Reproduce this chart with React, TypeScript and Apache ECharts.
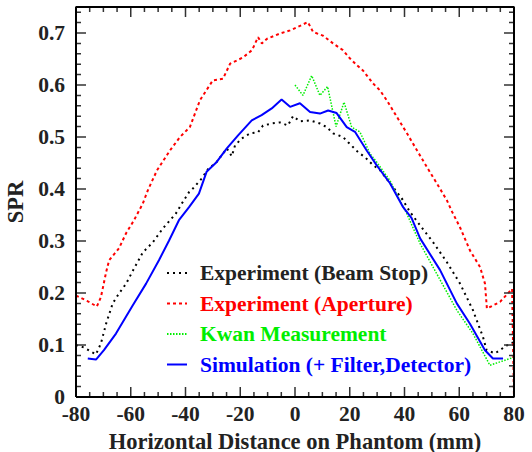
import React, { useEffect, useRef } from "react";
import * as echarts from "echarts";

const X_MIN = -80;
const X_MAX = 80;
const X_STEP = 20;
const Y_MIN = 0;
const Y_MAX = 0.75;
const Y_STEP = 0.1;

const X_TICKS = [
  -80, -75, -70, -65, -60, -55, -50, -45, -40, -35, -30, -25, -20, -15, -10, -5,
  0, 5, 10, 15, 20, 25, 30, 35, 40, 45, 50, 55, 60, 65, 70, 75, 80,
];
const X_MAJOR = [-80, -60, -40, -20, 0, 20, 40, 60, 80];
const Y_TICKS = [
  0, 0.02, 0.04, 0.06, 0.08, 0.1, 0.12, 0.14, 0.16, 0.18, 0.2, 0.22, 0.24, 0.26,
  0.28, 0.3, 0.32, 0.34, 0.36, 0.38, 0.4, 0.42, 0.44, 0.46, 0.48, 0.5, 0.52, 0.54,
  0.56, 0.58, 0.6, 0.62, 0.64, 0.66, 0.68, 0.7, 0.72, 0.74,
];
const Y_MAJOR = [0, 0.1, 0.2, 0.3, 0.4, 0.5, 0.6, 0.7];

const seriesNames = [
  "Experiment (Beam Stop)",
  "Experiment (Aperture)",
  "Kwan Measurement",
  "Simulation (+ Filter,Detector)",
];

const beamStop = [
  [-80, 0.1], [-77, 0.095], [-72.7, 0.082], [-70.9, 0.103], [-69, 0.141], [-66.6, 0.18],
  [-64.3, 0.199], [-61.7, 0.218], [-58.8, 0.247], [-55.6, 0.278], [-52, 0.297],
  [-48.3, 0.324], [-43.5, 0.353], [-41, 0.375], [-38.7, 0.394], [-37.3, 0.401],
  [-34.1, 0.42], [-31.8, 0.438], [-28.6, 0.452], [-24.9, 0.478], [-23.1, 0.463],
  [-21.9, 0.484], [-19.5, 0.497], [-16.4, 0.507], [-13.5, 0.509], [-11.7, 0.522],
  [-8.5, 0.526], [-5.5, 0.528], [-2.6, 0.522], [-0.7, 0.54], [1.8, 0.53],
  [5.5, 0.532], [9.1, 0.526], [11.6, 0.519], [13.9, 0.507], [17.5, 0.5],
  [19.4, 0.49], [23, 0.471], [25.6, 0.461], [28.5, 0.446], [31.1, 0.436],
  [34.7, 0.411], [39, 0.382], [42, 0.356], [45.7, 0.33], [50.4, 0.298],
  [55.4, 0.26], [60.3, 0.218], [65, 0.167], [68.7, 0.115], [70, 0.09],
  [73.1, 0.084], [78.5, 0.103], [80, 0.105],
];

const aperture = [
  [-80, 0.195], [-76, 0.185], [-72.4, 0.174], [-70.9, 0.192], [-69, 0.24],
  [-67.9, 0.263], [-64.3, 0.286], [-61.7, 0.315], [-58.8, 0.34], [-55.6, 0.372],
  [-53.8, 0.397], [-50.4, 0.436], [-45.7, 0.474], [-42, 0.5], [-38.4, 0.519],
  [-34.7, 0.571], [-30, 0.609], [-26.3, 0.612], [-23.7, 0.641], [-19, 0.653],
  [-15.7, 0.667], [-13.5, 0.692], [-12.1, 0.68], [-10.2, 0.689], [-5.5, 0.699],
  [-1.8, 0.705], [0.7, 0.711], [4.7, 0.721], [6.6, 0.702], [10.2, 0.695],
  [13.9, 0.68], [17.5, 0.667], [20.1, 0.651], [22.6, 0.638], [24.8, 0.628],
  [28.5, 0.603], [31, 0.59], [33.6, 0.57], [37.3, 0.538], [40.9, 0.507],
  [44.6, 0.474], [48.2, 0.442], [51.9, 0.41], [55.5, 0.378], [57.4, 0.356],
  [60.3, 0.326], [63.9, 0.282], [67.6, 0.25], [69.4, 0.218], [70.1, 0.17],
  [74.9, 0.183], [79.3, 0.208], [80, 0],
];

const kwan = [
  [0, 0.6], [2.9, 0.58], [6.1, 0.618], [9.1, 0.58], [11.9, 0.597], [15, 0.52],
  [17.9, 0.567], [20.7, 0.519], [23.7, 0.51], [27.4, 0.468], [29.8, 0.452],
  [34.7, 0.416], [37.6, 0.385], [40.8, 0.353], [45.7, 0.295], [59.1, 0.167],
  [65, 0.122], [71.2, 0.061], [78.5, 0.074], [80, 0.076],
];

const simulation = [
  [-75.7, 0.074], [-72.7, 0.072], [-69.8, 0.09], [-65.4, 0.122], [-59.3, 0.176],
  [-54.4, 0.218], [-49.7, 0.263], [-46, 0.301], [-42.4, 0.34], [-38.7, 0.365],
  [-35.1, 0.391], [-32.3, 0.433], [-28.6, 0.452], [-24.9, 0.478], [-20.8, 0.503],
  [-15.8, 0.532], [-12.2, 0.542], [-8.5, 0.555], [-4.9, 0.572], [-1.8, 0.558],
  [1.8, 0.565], [5.5, 0.548], [9.1, 0.545], [12.1, 0.551], [15.2, 0.546],
  [18.9, 0.519], [21.9, 0.51], [26.2, 0.474], [29.8, 0.446], [34.7, 0.411],
  [39.5, 0.365], [42.6, 0.344], [45.7, 0.305], [53, 0.244], [59.1, 0.18],
  [63.9, 0.141], [69.4, 0.09], [72.3, 0.074], [76, 0.074],
];

const seriesColors = ["#000000", "#ff0000", "#00ee00", "#0000ff"];
const FONT = "'Liberation Serif', 'Times New Roman', serif";
const TEXT = "#222222";

const W = 532;
const H = 452;
const GRID = { left: 76, right: 18, top: 7, bottom: 55 };

export default function App() {
  const ref = useRef<HTMLDivElement>(null);
  useEffect(() => {
    if (!ref.current) return;
    const chart = echarts.init(ref.current, null, { renderer: "svg" });
    const label = {
      color: TEXT,
      fontFamily: FONT,
      fontWeight: "bold" as const,
      fontSize: 21.5,
    };
    const xPerPx = (X_MAX - X_MIN) / (W - GRID.left - GRID.right);
    const yPerPx = (Y_MAX - Y_MIN) / (H - GRID.top - GRID.bottom);
    const frame = [
      [X_MIN, Y_MIN], [X_MAX, Y_MIN], [X_MAX, Y_MAX], [X_MIN, Y_MAX], [X_MIN, Y_MIN],
    ];
    const ticks: any[] = [];
    X_TICKS.forEach((v) => {
      const len = (X_MAJOR.indexOf(v) >= 0 ? 10 : 5) * yPerPx;
      ticks.push([v, Y_MIN], [v, Y_MIN + len], null);
      ticks.push([v, Y_MAX], [v, Y_MAX - len], null);
    });
    Y_TICKS.forEach((v) => {
      const len = (Y_MAJOR.some((m) => Math.abs(m - v) < 1e-9) ? 10 : 5) * xPerPx;
      ticks.push([X_MIN, v], [X_MIN + len, v], null);
      ticks.push([X_MAX, v], [X_MAX - len, v], null);
    });
    const lineSeries = (
      i: number,
      data: number[][],
      type: number[] | "solid",
      width: number
    ) => ({
      name: seriesNames[i],
      type: "line" as const,
      data,
      showSymbol: false,
      symbol: "none",
      lineStyle: { color: seriesColors[i], width, type },
      itemStyle: { color: seriesColors[i] },
      z: 3,
    });
    chart.setOption({
      animation: false,
      backgroundColor: "#ffffff",
      grid: {
        ...GRID,
        containLabel: false,
        outerBoundsMode: "none",
      },
      xAxis: {
        type: "value",
        min: X_MIN,
        max: X_MAX,
        interval: X_STEP,
        splitLine: { show: false },
        axisLine: { show: false },
        axisTick: { show: false },
        axisLabel: { ...label, margin: 6 },
        name: "Horizontal Distance on Phantom (mm)",
        nameLocation: "middle",
        nameGap: 25,
        nameTextStyle: { ...label, fontSize: 22.5 },
      },
      yAxis: {
        type: "value",
        min: Y_MIN,
        max: Y_MAX,
        interval: Y_STEP,
        splitLine: { show: false },
        axisLine: { show: false },
        axisTick: { show: false },
        axisLabel: {
          ...label,
          margin: 11,
          showMaxLabel: false,
          formatter: (v: number) => (v === 0 ? "0" : v.toFixed(1)),
        },
        name: "SPR",
        nameLocation: "middle",
        nameGap: 47,
        nameTextStyle: { ...label, fontSize: 22.5 },
      },
      legend: {
        orient: "vertical",
        left: 161,
        top: 257,
        itemWidth: 20,
        itemHeight: 14,
        itemGap: 8.5,
        itemStyle: { opacity: 0 },
        textStyle: {
          fontFamily: FONT,
          fontWeight: "bold",
          fontSize: 21.5,
          lineHeight: 21,
          padding: [0, 0, 0, 8],
        },
        data: seriesNames.map((n, i) => ({
          name: n,
          textStyle: { color: i === 0 ? TEXT : seriesColors[i] },
        })),
      },
      series: [
        lineSeries(0, beamStop, [2, 4], 2),
        lineSeries(1, aperture, [3, 3], 2),
        lineSeries(2, kwan, [1.5, 1.5], 1.5),
        lineSeries(3, simulation, "solid", 2),
        {
          name: "ticks",
          type: "line",
          data: ticks,
          connectNulls: false,
          showSymbol: false,
          symbol: "none",
          silent: true,
          clip: false,
          z: 5,
          lineStyle: { color: "#333333", width: 1.5 },
        },
        {
          name: "frame",
          type: "line",
          data: frame,
          showSymbol: false,
          symbol: "none",
          silent: true,
          clip: false,
          z: 6,
          lineStyle: { color: "#000000", width: 2 },
        },
      ],
    });
    return () => chart.dispose();
  }, []);
  return (
    <div
      ref={ref}
      style={{ position: "absolute", left: 0, top: 0, width: W, height: H }}
    />
  );
}
